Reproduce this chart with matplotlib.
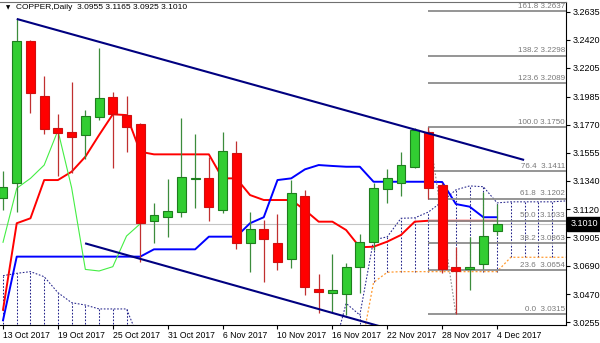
import numpy as np
import matplotlib.pyplot as plt
from matplotlib.patches import Rectangle
from matplotlib.transforms import blended_transform_factory

plt.rcParams['font.family'] = ['Liberation Sans', 'DejaVu Sans']

# daily bars, 13 Oct 2017 .. 4 Dec 2017
dates = ["13 Oct 2017", "16 Oct 2017", "17 Oct 2017", "18 Oct 2017", "19 Oct 2017",
         "20 Oct 2017", "23 Oct 2017", "24 Oct 2017", "25 Oct 2017", "26 Oct 2017",
         "27 Oct 2017", "30 Oct 2017", "31 Oct 2017", "1 Nov 2017", "2 Nov 2017",
         "3 Nov 2017", "6 Nov 2017", "7 Nov 2017", "8 Nov 2017", "9 Nov 2017",
         "10 Nov 2017", "13 Nov 2017", "14 Nov 2017", "15 Nov 2017", "16 Nov 2017",
         "17 Nov 2017", "20 Nov 2017", "21 Nov 2017", "22 Nov 2017", "23 Nov 2017",
         "24 Nov 2017", "27 Nov 2017", "28 Nov 2017", "29 Nov 2017", "30 Nov 2017",
         "1 Dec 2017", "4 Dec 2017"]
opens = [3.1205, 3.1320, 3.2410, 3.1989, 3.1742, 3.1711, 3.1690, 3.1826, 3.1979, 3.1843,
         3.1772, 3.1033, 3.1060, 3.1098, 3.1351, 3.1358, 3.1115, 3.1555, 3.0865, 3.0968,
         3.0865, 3.0738, 3.1225, 3.0508, 3.0477, 3.0472, 3.0681, 3.0873, 3.1276, 3.1320,
         3.1447, 3.1711, 3.1307, 3.0681, 3.0663, 3.0699, 3.0955]
highs = [3.1417, 3.2577, 3.2420, 3.2145, 3.1849, 3.2094, 3.1882, 3.2355, 3.2022, 3.1989,
         3.1780, 3.1167, 3.1351, 3.1818, 3.1696, 3.1524, 3.1711, 3.1644, 3.1102, 3.1039,
         3.1082, 3.1345, 3.1269, 3.0623, 3.0776, 3.0712, 3.0932, 3.1320, 3.1430, 3.1562,
         3.1742, 3.1750, 3.1320, 3.0834, 3.0911, 3.1256, 3.1165]
lows = [3.1115, 3.1102, 3.1856, 3.1696, 3.1376, 3.1397, 3.1506, 3.1805, 3.1435, 3.1562,
        3.0719, 3.0865, 3.0911, 3.1060, 3.1133, 3.1033, 3.1095, 3.0814, 3.0643, 3.0566,
        3.0656, 3.0669, 3.0464, 3.0324, 3.0336, 3.0311, 3.0482, 3.0809, 3.1171, 3.1225,
        3.1440, 3.1197, 3.0630, 3.0315, 3.0502, 3.0661, 3.0925]
closes = [3.1289, 3.2410, 3.2010, 3.1736, 3.1703, 3.1673, 3.1836, 3.1974, 3.1851, 3.1749,
          3.1014, 3.1077, 3.1108, 3.1371, 3.1363, 3.1141, 3.1568, 3.0860, 3.0968, 3.0891,
          3.0719, 3.1248, 3.0523, 3.0489, 3.0502, 3.0676, 3.0868, 3.1282, 3.1358, 3.1460,
          3.1725, 3.1286, 3.0660, 3.0648, 3.0681, 3.0916, 3.1010]

# ichimoku lines
tenkan = [3.0350, 3.1014, 3.1052, 3.1345, 3.1345, 3.1409, 3.1524, 3.1690, 3.1849, 3.1843,
          3.1562, 3.1542, 3.1542, 3.1542, 3.1542, 3.1542, 3.1358, 3.1358, 3.1230, 3.1192,
          3.1192, 3.1192, 3.1115, 3.1026, 3.1026, 3.0962, 3.0830, 3.0834, 3.0873, 3.0924,
          3.1026, 3.1033, 3.1033, 3.1033, 3.1033, 3.1033, 3.1033]
kijun = [3.0270, 3.0758, 3.0758, 3.0758, 3.0758, 3.0758, 3.0758, 3.0758, 3.0758, 3.0758,
         3.0758, 3.0814, 3.0814, 3.0814, 3.0814, 3.0911, 3.0911, 3.0911, 3.1014, 3.1060,
         3.1345, 3.1358, 3.1427, 3.1460, 3.1453, 3.1447, 3.1447, 3.1332, 3.1332, 3.1332,
         3.1332, 3.1332, 3.1330, 3.1161, 3.1141, 3.1060, 3.1060]
chikou = [3.0868, 3.1282, 3.1358, 3.1460, 3.1725, 3.1286, 3.0660, 3.0648, 3.0681, 3.0916,
          3.1010]
nan = np.nan
span_a = [3.0612, 3.0630, 3.0643, 3.0604, 3.0482, 3.0405, 3.0387, 3.0357, 3.0357, 3.0357,
          3.0100, nan, nan, nan, nan, nan, nan, nan, nan, nan,
          nan, nan, nan, nan, 3.0000, 3.0400, 3.0310, 3.0886, 3.0910, 3.1052,
          3.1055, 3.1100, 3.1180, 3.1270, 3.1300, 3.1294, 3.1170, 3.1178, 3.1178, 3.1178,
          3.1178, 3.1185]
span_b = [2.9900, 2.9900, 2.9900, 2.9900, 2.9900, 2.9900, 2.9900, 2.9900, 2.9900, 2.9900,
          2.9900, nan, nan, nan, nan, nan, nan, nan, nan, nan,
          nan, nan, nan, nan, nan, nan, 3.0000, 3.0560, 3.0638, 3.0643,
          3.0643, 3.0643, 3.0643, 3.0643, 3.0643, 3.0643, 3.0643, 3.0753, 3.0753, 3.0753,
          3.0753, 3.0753]

# trendlines (bar index, price)
upper_trend = ([1, 37.97], [3.2580, 3.1499])
lower_trend = ([5.98, 27.6], [3.0860, 3.0220])

# fibonacci retracement 27 Nov high -> 29 Nov low
fib_levels = ["0.0", "23.6", "38.2", "50.0", "61.8", "76.4", "100.0", "123.6", "138.2", "161.8"]
fib_prices = [3.0315, 3.0654, 3.0863, 3.1033, 3.1202, 3.1411, 3.1750, 3.2089, 3.2298, 3.2637]
fib_anchor = ([31, 33], [3.1750, 3.0315])

price_ticks = [3.2635, 3.2420, 3.2205, 3.1985, 3.1770, 3.1555, 3.1340, 3.1120, 3.0905,
               3.0690, 3.0470, 3.0255]
last_price = 3.1010
title = "COPPER,Daily  3.0955 3.1165 3.0925 3.1010"

fig = plt.figure(figsize=(6, 3.43), dpi=100)
ax = fig.add_axes([0, 0.0525, 0.9428, 0.9425])
ax.set_xlim(-0.22, 41.0)
ax.set_ylim(3.0234, 3.2712)

x = np.arange(len(opens))
xc = np.arange(len(span_a))

# bid line
ax.axhline(last_price, color='#c4c4c4', lw=0.8, zorder=1)

# kumo
sa = np.array(span_a)
sb = np.array(span_b)
ok = ~np.isnan(sa) & ~np.isnan(sb)
ax.vlines(xc[ok], sb[ok], sa[ok], colors='#22228a', linestyles=(0, (1.6, 1.6)), lw=0.75, zorder=2)
ax.plot(xc, sa, color='#22228a', ls=(0, (1.6, 1.6)), lw=0.75, zorder=2)
ax.plot(xc, sb, color='#ff9a30', ls=(0, (1.6, 1.6)), lw=0.9, zorder=2)

# tenkan / kijun / chikou
ax.plot(x, tenkan, color='#ff0000', lw=1.4, zorder=3)
ax.plot(x, kijun, color='#0000ff', lw=1.4, zorder=3)
ax.plot(np.arange(len(chikou)), chikou, color='#44ee44', lw=0.8, zorder=3)

# fib levels
ax.hlines(fib_prices, 31, 41.0, colors='#8c8c8c', lw=1.3, zorder=3.5)
ax.plot(fib_anchor[0], fib_anchor[1], color='#909090', ls=(0, (1.5, 1.5)), lw=0.8, zorder=3.5)

# candles
w = 0.65
for i in x:
    o, h, l, c = opens[i], highs[i], lows[i], closes[i]
    if c >= o:
        body, edge, wick = '#32cd32', '#1e7e1e', '#3c8c3c'
    else:
        body, edge, wick = '#ff0000', '#d01010', '#c03030'
    ax.vlines(i, l, h, colors=wick, lw=0.9, zorder=4)
    ax.add_patch(Rectangle((i - w / 2, min(o, c)), w, max(abs(c - o), 0.0004),
                           facecolor=body, edgecolor=edge, lw=0.8, zorder=4.5))

# trendlines
ax.plot(upper_trend[0], upper_trend[1], color='#000080', lw=1.5, zorder=5, solid_capstyle='butt')
ax.plot(lower_trend[0], lower_trend[1], color='#000080', lw=1.5, zorder=5, solid_capstyle='butt')

# fib labels
for lev, pr in zip(fib_levels, fib_prices):
    gap = ' ' if len(lev) == 5 else '  '
    ax.annotate(lev + gap + '%.4f' % pr, (40.95, pr), xytext=(0, 1), textcoords='offset points',
                ha='right', va='bottom', fontsize=5.8, color='#787878', zorder=6)

# axes cosmetics
ax.yaxis.tick_right()
ax.set_yticks(price_ticks)
ax.set_yticklabels(['%.4f' % p for p in price_ticks])
ax.tick_params(axis='y', length=3, width=0.8, pad=2, labelsize=6.5, colors='black')
tick_idx = list(range(0, len(dates), 4))
ax.set_xticks(tick_idx)
ax.set_xticklabels([dates[i] for i in tick_idx], ha='left')
ax.tick_params(axis='x', length=3, width=0.8, pad=1.5, labelsize=6.2)
ax.spines['left'].set_visible(False)
ax.spines['top'].set_color('#707070')
for s in ('right', 'bottom'):
    ax.spines[s].set_color('black')
    ax.spines[s].set_linewidth(0.8)

# title
ax.text(0.010, 0.982, '\u25bc', transform=ax.transAxes, fontsize=4, family='DejaVu Sans',
        va='center', ha='left')
ax.text(0.028, 0.982, title, transform=ax.transAxes, fontsize=6, va='center', ha='left')

# current price tag
tr = blended_transform_factory(ax.transAxes, ax.transData)
ax.text(1.008, last_price, '%.4f' % last_price, transform=tr, color='white', fontsize=6.5,
        va='center', ha='left', clip_on=False,
        bbox=dict(boxstyle='square,pad=0.3', fc='black', ec='black'))

fig.savefig('out.png', dpi=100)
